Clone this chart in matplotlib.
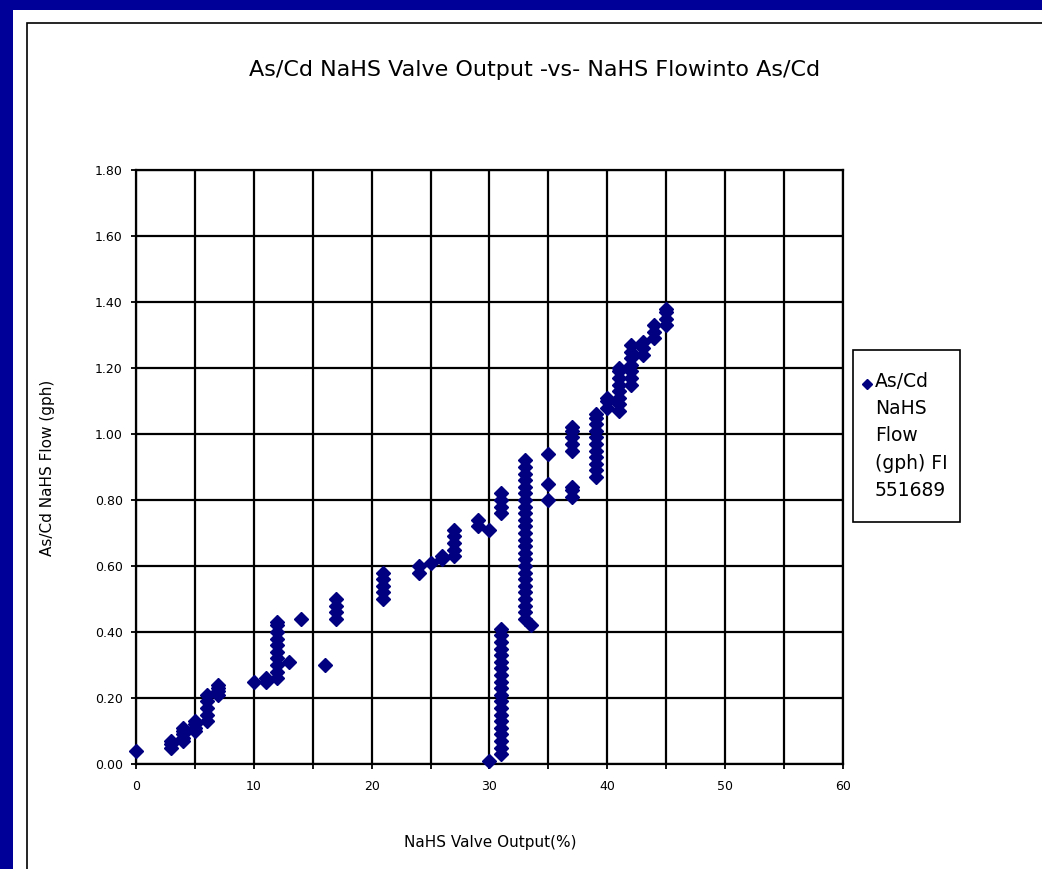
import matplotlib.pyplot as plt
from matplotlib.patches import Rectangle
from matplotlib.lines import Line2D

# valve output (%) and NaHS flow (gph)
valve_output = [0,
                3, 3, 3,
                4, 4, 4, 4, 4,
                5, 5, 5, 5,
                6, 6, 6, 6, 6,
                7, 7, 7, 7,
                10, 11, 11,
                12, 12, 12, 12, 12, 12, 12, 12, 12, 12,
                13, 14, 16,
                17, 17, 17, 17,
                21, 21, 21, 21, 21,
                24, 24, 25, 26, 26,
                27, 27, 27, 27, 27,
                29, 29, 30, 30,
                31, 31, 31, 31, 31, 31, 31, 31, 31, 31,
                31, 31, 31, 31, 31, 31, 31, 31, 31, 31,
                31, 31, 31, 31,
                33, 33, 33, 33, 33, 33, 33, 33, 33, 33, 33, 33, 33,
                33, 33, 33, 33, 33, 33, 33, 33, 33, 33, 33, 33,
                33.5,
                35, 35, 35,
                37, 37, 37, 37, 37, 37, 37, 37,
                39, 39, 39, 39, 39, 39, 39, 39, 39, 39, 39,
                40, 40, 40,
                41, 41, 41, 41, 41, 41, 41, 41,
                42, 42, 42, 42, 42, 42, 42,
                43, 43, 43,
                44, 44, 44,
                45, 45, 45, 45]
nahs_flow = [0.04,
             0.05, 0.06, 0.07,
             0.07, 0.08, 0.09, 0.10, 0.11,
             0.10, 0.11, 0.12, 0.13,
             0.13, 0.15, 0.17, 0.19, 0.21,
             0.21, 0.22, 0.23, 0.24,
             0.25, 0.25, 0.26,
             0.26, 0.28, 0.30, 0.32, 0.34, 0.36, 0.38, 0.40, 0.42, 0.43,
             0.31, 0.44, 0.30,
             0.44, 0.46, 0.48, 0.50,
             0.50, 0.52, 0.54, 0.56, 0.58,
             0.58, 0.60, 0.61, 0.62, 0.63,
             0.63, 0.65, 0.67, 0.69, 0.71,
             0.72, 0.74, 0.71, 0.01,
             0.03, 0.05, 0.07, 0.09, 0.11, 0.13, 0.15, 0.17, 0.19, 0.21,
             0.23, 0.25, 0.27, 0.29, 0.31, 0.33, 0.35, 0.37, 0.39, 0.41,
             0.76, 0.78, 0.80, 0.82,
             0.44, 0.46, 0.48, 0.50, 0.52, 0.54, 0.56, 0.58, 0.60, 0.62, 0.64, 0.66, 0.68,
             0.70, 0.72, 0.74, 0.76, 0.78, 0.80, 0.82, 0.84, 0.86, 0.88, 0.90, 0.92,
             0.42,
             0.80, 0.85, 0.94,
             0.81, 0.83, 0.84, 0.95, 0.97, 0.99, 1.01, 1.02,
             0.87, 0.89, 0.91, 0.93, 0.95, 0.97, 0.99, 1.01, 1.03, 1.05, 1.06,
             1.08, 1.10, 1.11,
             1.07, 1.09, 1.11, 1.13, 1.15, 1.17, 1.19, 1.20,
             1.15, 1.17, 1.19, 1.21, 1.23, 1.25, 1.27,
             1.24, 1.26, 1.28,
             1.29, 1.31, 1.33,
             1.33, 1.35, 1.37, 1.38]

x_ticks = [0, 10, 20, 30, 40, 50, 60]
y_ticks = [0.0, 0.2, 0.4, 0.6, 0.8, 1.0, 1.2, 1.4, 1.6, 1.8]
legend_label = "As/Cd\nNaHS\nFlow\n(gph) FI\n551689"

navy = "#000080"
W, H = 1042, 869

plt.rcParams['font.family'] = ['DejaVu Sans']
fig = plt.figure(figsize=(W / 100, H / 100), dpi=100, facecolor="#000099")

# white page and chart frame
fig.add_artist(Rectangle((13 / W, 0), 1, 1 - 10 / H, transform=fig.transFigure,
                         facecolor="white", edgecolor="none", zorder=0))
fig.add_artist(Rectangle((27 / W, -0.05), 1.2, 1 - 23 / H + 0.05, transform=fig.transFigure,
                         facecolor="none", edgecolor="black", lw=1.2, zorder=1))

ax = fig.add_axes([136 / W, 1 - 764 / H, (843 - 136) / W, (764 - 170) / H])
ax.set_facecolor("white")
ax.plot(valve_output, nahs_flow, linestyle="none", marker="D", ms=7.2,
        color=navy, mec=navy, zorder=3, clip_on=False)

ax.set_xlim(0, 60)
ax.set_ylim(0, 1.8)
ax.set_xticks(range(0, 61, 5))
ax.set_xticklabels([str(t) if t in x_ticks else "" for t in range(0, 61, 5)], fontsize=9)
ax.set_yticks(y_ticks)
ax.set_yticklabels(["%.2f" % v for v in y_ticks], fontsize=9)
ax.tick_params(direction="inout", length=7, width=1.3)
ax.tick_params(axis="x", pad=8)
ax.tick_params(axis="y", pad=6)
ax.grid(True, color="black", lw=1.6)
for s in ax.spines.values():
    s.set_linewidth(1.6)

ax.set_xlabel("NaHS Valve Output(%)", fontsize=11, va="center")
ax.set_ylabel("As/Cd NaHS Flow (gph)", fontsize=11, va="center")
ax.xaxis.set_label_coords((490 - 136) / 707, (764 - 843) / 594)
ax.yaxis.set_label_coords((47 - 136) / 707, (764 - 468) / 594)

fig.text(535 / W, 1 - 70 / H, "As/Cd NaHS Valve Output -vs- NaHS Flowinto As/Cd",
         ha="center", va="center", fontsize=16)

# legend box
fig.add_artist(Rectangle((853 / W, 1 - 522 / H), 107 / W, 172 / H, transform=fig.transFigure,
                         facecolor="white", edgecolor="black", lw=1.2))
fig.add_artist(Line2D([867 / W], [1 - 384 / H], transform=fig.transFigure,
                      marker="D", ms=5, color=navy, linestyle="none"))
fig.text(875 / W, 1 - 372 / H, legend_label, ha="left", va="top",
         fontsize=13.5, linespacing=1.55)

fig.savefig("out.png", dpi=100, facecolor=fig.get_facecolor())
